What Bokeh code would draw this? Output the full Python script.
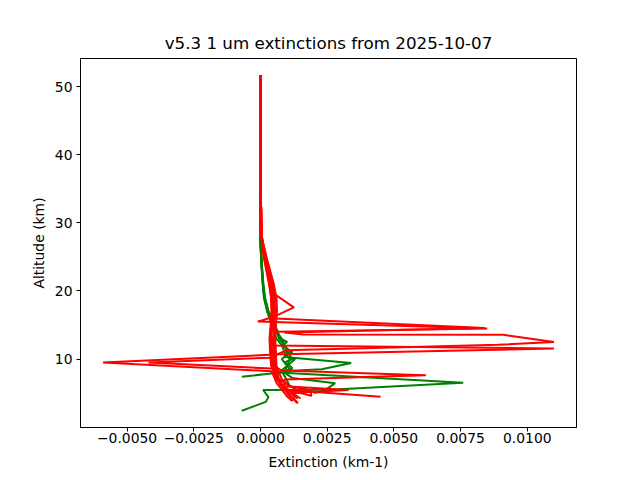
from bokeh.plotting import figure
from bokeh.models import Range1d, FixedTicker
from bokeh.embed import file_html
from bokeh.resources import INLINE

title_text = "v5.3 1 um extinctions from 2025-10-07"
x_label = "Extinction (km-1)"
y_label = "Altitude (km)"
x_ticks = [-0.005, -0.0025, 0.0, 0.0025, 0.005, 0.0075, 0.01]
x_tick_labels = ["\u22120.0050", "\u22120.0025", "0.0000", "0.0025", "0.0050", "0.0075", "0.0100"]
y_ticks = [10, 20, 30, 40, 50]
y_tick_labels = ["10", "20", "30", "40", "50"]

# shared upper part of all profiles (km) and extinction there (km-1)
alt_upper = [51.7, 48.0, 44.0, 40.0, 36.0, 33.0, 30.0, 28.0]
red_upper = [0.0, 0.0, 0.00001, 0.00001, 0.00001, 0.00002, 0.00003, 0.00005]
green_upper = [0.0, 0.0, 0.0, 0.0, 0.0, -0.00001, -0.00001, 0.0]

# red profiles, below 28 km
red1_alt = [27, 25, 23, 21, 19.6, 17.6, 16.2, 15.5, 14.5, 14.0, 13, 12, 11, 10, 9, 8, 7, 6, 5, 4.2]
red1_ext = [0.00008, 0.00018, 0.00030, 0.00042, 0.00050, 0.00125, 0.00050, -0.00010, 0.00850, 0.00060,
            0.00045, 0.00040, 0.00045, 0.00050, 0.00050, 0.00055, 0.00065, 0.00080, 0.00110, 0.00140]
red2_alt = [27, 25, 23, 21, 19, 17, 16, 14.55, 13.9, 13.6, 13.55, 12.5, 12.1, 11.3, 10.5, 9.5, 8.5, 7.5, 6.5, 5.5, 4.6]
red2_ext = [0.00010, 0.00022, 0.00035, 0.00048, 0.00055, 0.00050, 0.00035, 0.00840, 0.00090, 0.00160, 0.00910,
            0.01100, 0.00890, 0.00100, 0.00050, 0.00045, 0.00050, 0.00060, 0.00075, 0.00100, 0.00190]
red3_alt = [27, 25, 23, 21, 19, 17, 15, 13, 12.0, 11.55, 10.7, 9.5, 8.2, 7.5, 6.5, 5.5, 4.5, 3.8]
red3_ext = [0.00006, 0.00015, 0.00025, 0.00035, 0.00042, 0.00045, 0.00040, 0.00035, 0.00045, 0.01100,
            0.00080, -0.00590, 0.00040, 0.00050, 0.00060, 0.00080, 0.00100, 0.00120]
red4_alt = [27, 25, 23, 21, 19, 17, 15, 13, 11, 10.2, 9.5, 8.6, 7.5, 6.5, 5.5, 4.5, 3.5]
red4_ext = [0.00007, 0.00016, 0.00028, 0.00038, 0.00045, 0.00048, 0.00045, 0.00040, 0.00040, 0.00040,
            -0.00420, 0.00045, 0.00055, 0.00070, 0.00090, 0.00110, 0.00140]
red5_alt = [27, 25, 23, 21, 19, 17, 15, 13, 11, 9, 8.3, 7.6, 7.0, 6, 5, 4.2]
red5_ext = [0.00009, 0.00020, 0.00032, 0.00045, 0.00052, 0.00055, 0.00050, 0.00048, 0.00048, 0.00050,
            0.00080, 0.00620, 0.00090, 0.00090, 0.00120, 0.00150]
red6_alt = [27, 25, 23, 21, 19, 17, 15, 13, 11, 9, 7, 6.0, 5.45, 5.0, 4.3]
red6_ext = [0.00005, 0.00012, 0.00022, 0.00032, 0.00040, 0.00042, 0.00040, 0.00038, 0.00040, 0.00042,
            0.00060, 0.00090, 0.00330, 0.00120, 0.00130]
red7_alt = [27, 25, 23, 21, 19, 17, 15, 13, 11, 9, 7, 6, 5.5, 4.45]
red7_ext = [0.00008, 0.00019, 0.00030, 0.00040, 0.00046, 0.00050, 0.00052, 0.00050, 0.00052, 0.00055,
            0.00070, 0.00080, 0.00090, 0.00450]
red8_alt = [27, 25, 23, 21, 19, 17, 15, 13, 11, 9, 7, 6, 5.4, 4.5]
red8_ext = [0.00010, 0.00022, 0.00036, 0.00050, 0.00060, 0.00062, 0.00058, 0.00055, 0.00058, 0.00060,
            0.00080, 0.00110, 0.00190, 0.00190]
red9_alt = [27, 25, 23, 21, 19, 17, 15, 13, 11, 9, 7, 6, 5.2, 4.8, 4.0, 3.5]
red9_ext = [0.00006, 0.00014, 0.00024, 0.00034, 0.00040, 0.00042, 0.00038, 0.00034, 0.00036, 0.00040,
            0.00070, 0.00110, 0.00150, 0.00105, 0.00130, 0.00140]

# green profiles, below 28 km
green1_alt = [27, 24, 21, 19, 17, 15, 14, 13, 12, 11, 10.3, 9.4, 8.5, 8.2, 7.5, 6.8, 6.0]
green1_ext = [0.00000, 0.00004, 0.00010, 0.00015, 0.00028, 0.00050, 0.00060, 0.00080, 0.00090, 0.00100,
              0.00090, 0.00340, 0.00230, 0.00080, 0.00090, 0.00100, 0.00110]
green2_alt = [27, 24, 21, 19, 17, 15, 13, 12, 11, 10, 9, 8.0, 6.5, 5.5, 5.0]
green2_ext = [0.00001, 0.00005, 0.00011, 0.00017, 0.00030, 0.00055, 0.00075, 0.00090, 0.00110, 0.00080,
              0.00100, 0.00070, 0.00760, 0.00260, 0.00200]
green3_alt = [27, 24, 21, 19, 17, 15, 13, 12, 11, 10, 9.5, 9, 8.6, 8.0, 7.4]
green3_ext = [0.00001, 0.00004, 0.00010, 0.00016, 0.00030, 0.00050, 0.00070, 0.00090, 0.00100, 0.00120,
              0.00090, 0.00110, 0.00120, 0.00070, -0.00070]
green4_alt = [27, 24, 21, 19, 17, 15, 13, 12, 11, 10, 9, 8, 7.2, 6.45, 5.5, 5.45, 4.4, 3.7, 2.4]
green4_ext = [0.00000, 0.00003, 0.00008, 0.00013, 0.00025, 0.00042, 0.00060, 0.00080, 0.00090, 0.00110,
              0.00100, 0.00090, 0.00120, 0.00280, 0.00245, 0.00010, 0.00030, 0.00020, -0.00070]
green5_alt = [27, 24, 21, 19, 17, 15, 14, 13, 12.5, 12, 11, 10.5, 10, 9, 8.5]
green5_ext = [0.00000, 0.00004, 0.00009, 0.00014, 0.00026, 0.00046, 0.00060, 0.00075, 0.00100, 0.00080,
              0.00120, 0.00090, 0.00130, 0.00100, 0.00110]

red_profiles = [(red1_alt, red1_ext), (red2_alt, red2_ext), (red3_alt, red3_ext),
                (red4_alt, red4_ext), (red5_alt, red5_ext), (red6_alt, red6_ext),
                (red7_alt, red7_ext), (red8_alt, red8_ext), (red9_alt, red9_ext)]
green_profiles = [(green1_alt, green1_ext), (green2_alt, green2_ext), (green3_alt, green3_ext),
                  (green4_alt, green4_ext), (green5_alt, green5_ext)]

all_x = red_upper + green_upper
all_y = list(alt_upper)
for a, e in red_profiles + green_profiles:
    all_x += e
    all_y += a
xmin, xmax = min(all_x), max(all_x)
ymin, ymax = min(all_y), max(all_y)
xpad = 0.05 * (xmax - xmin)
ypad = 0.05 * (ymax - ymin)

FONT = "DejaVu Sans"
p = figure(width=640, height=480, output_backend="svg", toolbar_location=None,
           x_range=Range1d(xmin - xpad, xmax + xpad), y_range=Range1d(ymin - ypad, ymax + ypad),
           min_border_left=80, min_border_right=64, min_border_top=58, min_border_bottom=53,
           title=title_text)
p.title.align = "center"
p.title.text_font = FONT
p.title.text_font_size = "16.7px"
p.title.text_font_style = "normal"
p.title.text_color = "black"
p.title.standoff = 11
p.xgrid.visible = False
p.ygrid.visible = False
p.outline_line_color = "black"
p.outline_line_width = 1
p.outline_line_alpha = 1

for ax, ticks, labels, lab, ls, als in ((p.xaxis[0], x_ticks, x_tick_labels, x_label, 1, 8),
                                        (p.yaxis[0], y_ticks, y_tick_labels, y_label, 4, 5)):
    ax.ticker = FixedTicker(ticks=ticks)
    ax.major_label_overrides = {t: l for t, l in zip(ticks, labels)}
    ax.axis_label = lab
    ax.axis_label_text_font = FONT
    ax.axis_label_text_font_size = "13.9px"
    ax.axis_label_text_font_style = "normal"
    ax.axis_label_text_color = "black"
    ax.major_label_text_font = FONT
    ax.major_label_text_font_size = "13.9px"
    ax.major_label_text_color = "black"
    ax.major_tick_in = 0
    ax.major_tick_out = 4
    ax.minor_tick_in = 0
    ax.minor_tick_out = 0
    ax.axis_line_color = "black"
    ax.major_tick_line_color = "black"
    ax.major_label_standoff = ls
    ax.axis_label_standoff = als

for a, e in green_profiles:
    p.line(green_upper + e, alt_upper + a, line_color="green", line_width=2)
for a, e in red_profiles:
    p.line(red_upper + e, alt_upper + a, line_color="red", line_width=2)

open("out.html", "w").write(file_html(p, INLINE))
